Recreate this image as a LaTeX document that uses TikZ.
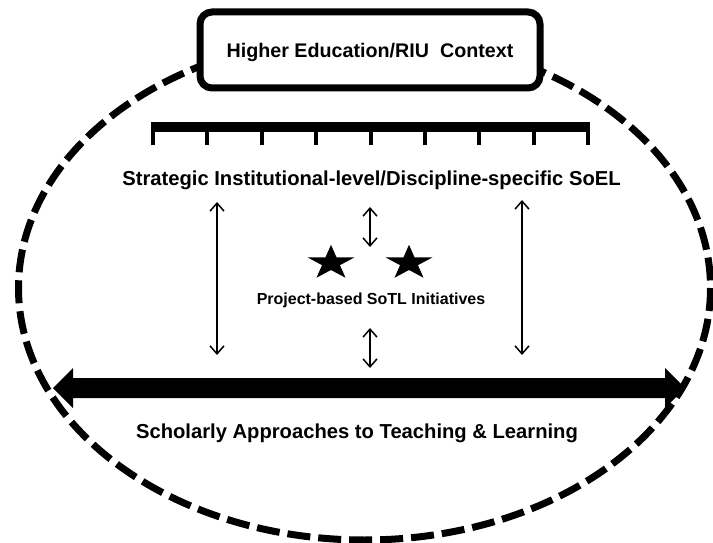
\documentclass[tikz,border=0pt]{standalone}
\usepackage{fontspec}
\setmainfont{Liberation Sans}
\usetikzlibrary{arrows.meta,calc}
\tikzset{
  dashring/.style={line width=7pt, dash pattern=on 23pt off 8pt},
  ctxbox/.style={draw, line width=7pt, rounded corners=12pt, fill=white, minimum width=340pt, minimum height=76pt, inner sep=0pt},
  lbl/.style={inner sep=0pt, font=\bfseries},
  thinarrow/.style={line width=1.5pt, {Straight Barb[length=8pt,width=14pt,line width=1.5pt]}-{Straight Barb[length=8pt,width=14pt,line width=1.5pt]}},
  fivestar/.pic={\fill (-90:24.7 and 18.2) -- (-54:9.4 and 7) -- (-18:24.7 and 18.2) -- (18:9.4 and 7) -- (54:24.7 and 18.2) -- (90:9.4 and 7) -- (126:24.7 and 18.2) -- (162:9.4 and 7) -- (198:24.7 and 18.2) -- (234:9.4 and 7) -- cycle;}
}
\begin{document}
\begin{tikzpicture}[x=1pt,y=-1pt]
\useasboundingbox (0,0) rectangle (713,543);
% outer dashed ellipse
\draw[dashring] (364.5,288) ellipse [x radius=346, y radius=252];
% context box
\node[ctxbox] (ctx) at (370,50) {};
\node[lbl, font=\bfseries\fontsize{19.7}{24}\selectfont] (ctxt) at (370,52) {Higher Education/RIU\ \ Context};
% comb
\draw[line width=10pt] (151,127) -- (590,127);
\foreach \i in {0,...,8} {
  \draw[line width=4pt] ({153+54.375*\i},127) -- ({153+54.375*\i},145);
}
% labels
\node[lbl, font=\bfseries\fontsize{20.2}{24}\selectfont] (soel) at (371.5,180) {Strategic Institutional-level/Discipline-specific SoEL};
\node[lbl, font=\bfseries\fontsize{16}{19}\selectfont] (proj) at (371,300) {Project-based SoTL Initiatives};
\node[lbl, font=\bfseries\fontsize{20.2}{24}\selectfont] (schol) at (357,433) {Scholarly Approaches to Teaching \& Learning};
% stars
\pic at (331,263) {fivestar};
\pic at (409,263) {fivestar};
% thin arrows
\coordinate (a1t) at (217,202); \coordinate (a1b) at (217,355);
\coordinate (a2t) at (370,207); \coordinate (a2b) at (370,247);
\coordinate (a3t) at (370,328); \coordinate (a3b) at (370,368);
\coordinate (a4t) at (522,200); \coordinate (a4b) at (522,355);
\draw[thinarrow] (a1t) -- (a1b);
\draw[thinarrow] (a2t) -- (a2b);
\draw[thinarrow] (a3t) -- (a3b);
\draw[thinarrow] (a4t) -- (a4b);
% big double arrow
\coordinate (la) at (53,388);
\coordinate (ra) at (685,388);
\fill (la) -- ++(20,-20) -- ++(0,10) -- ($(ra)+(-20,-10)$) -- ++(0,-10) -- (ra) -- ++(-20,20) -- ++(0,-10) -- ($(la)+(20,10)$) -- ++(0,10) -- cycle;
\end{tikzpicture}
\end{document}
